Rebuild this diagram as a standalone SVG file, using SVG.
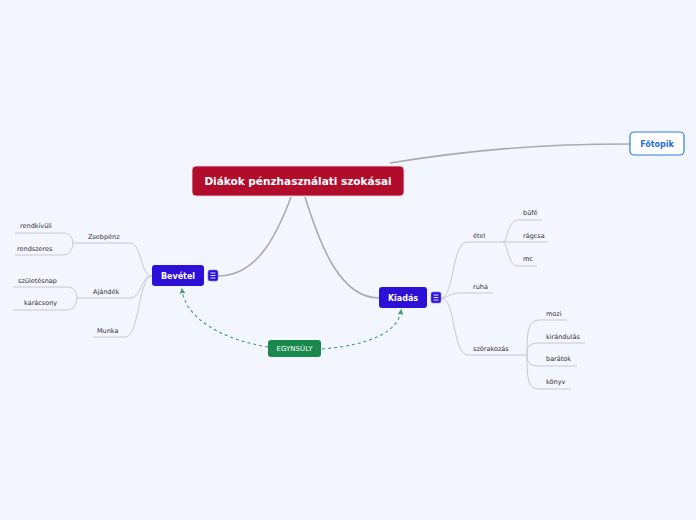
<svg xmlns="http://www.w3.org/2000/svg" width="696" height="520" viewBox="0 0 696 520">
<defs>
<style>
.bg{fill:#f3f6fe}
.main{fill:none;stroke:#aaaab2;stroke-width:1.6}
.sub{fill:none;stroke:#c6c8d2;stroke-width:1}
.rel{fill:none;stroke:#3f9e6e;stroke-width:1.1;stroke-dasharray:3 3}
.t{font-family:"DejaVu Sans",Verdana,sans-serif;font-size:6.5px;fill:#333}
.nb{font-family:"DejaVu Sans",Verdana,sans-serif;font-weight:bold;fill:#fff;text-anchor:middle}
.blue{fill:#2d10d8}
.icon{fill:#2d10d8;stroke:#8a7cf0;stroke-width:0.6}
.il{stroke:#fff;stroke-width:0.9}
</style>
<marker id="ah" viewBox="0 0 6 6" refX="3" refY="3" markerWidth="6" markerHeight="6" orient="auto">
<path d="M0,0.5 L5,3 L0,5.5 z" fill="#3f9e6e"/>
</marker>
</defs>
<rect class="bg" x="0" y="0" width="696" height="520"/>
<g id="connectors">
<path class="main" d="M390,163 C470,150 540,144 630,144"/>
<path class="main" d="M291,197 C275,240 255,276 218,276"/>
<path class="main" d="M305,197 C320,245 340,298 379,298"/>
<path class="sub" d="M152,276 C140,276 142,243 130,243 L73,243"/>
<path class="sub" d="M73,243 C72,236 70,233 62,233 L15,233"/>
<path class="sub" d="M73,243 C72,250 70,255 62,255 L15,255"/>
<path class="sub" d="M152,276 C140,276 142,298 130,298 L77,298"/>
<path class="sub" d="M77,298 C76,291 74,287 66,287 L13,287"/>
<path class="sub" d="M77,298 C76,305 74,310 66,310 L13,310"/>
<path class="sub" d="M152,276 C138,276 140,337 125,337 L93,337"/>
<path class="sub" d="M441,298 C454,298 452,242 467,242 L503,242"/>
<path class="sub" d="M503,242 C508,242 507,220 518,220 L542,220"/>
<path class="sub" d="M503,242 L548,242"/>
<path class="sub" d="M503,242 C508,242 507,266 518,266 L537,266"/>
<path class="sub" d="M441,298 C448,298 450,293 460,293 L493,293"/>
<path class="sub" d="M441,298 C456,298 452,355 468,355 L527,355"/>
<path class="sub" d="M527,355 C527,330 528,320 540,320 L567,320"/>
<path class="sub" d="M527,355 C527,346 529,343 540,343 L585,343"/>
<path class="sub" d="M527,355 C527,363 529,366 540,366 L577,366"/>
<path class="sub" d="M527,355 C527,380 528,389 540,389 L571,389"/>
<path class="rel" d="M268,347 C225,340 186,320 182,290" marker-end="url(#ah)"/>
<path class="rel" d="M322,349 C370,345 398,332 401,311" marker-end="url(#ah)"/>
</g>
<g id="central">
<rect x="192" y="166" width="212" height="30" rx="4" fill="#b10c2b" stroke="#f4dde2" stroke-width="0.8"/>
<text class="nb" x="298" y="184.5" font-size="10.5">Diákok pénzhasználati szokásai</text>
</g>
<g id="fotopik">
<rect x="630" y="132" width="54" height="23" rx="4" fill="#fff" stroke="#2a7de1" stroke-width="1.2"/>
<text class="nb" x="657" y="146.5" font-size="8" style="fill:#1f6fd6">Főtopik</text>
</g>
<g id="bevetel">
<rect class="blue" x="152" y="265" width="52" height="21" rx="3"/>
<text class="nb" x="178" y="278.8" font-size="8">Bevétel</text>
<rect class="icon" x="208" y="270" width="10" height="11" rx="2"/>
<path class="il" d="M210.5,273 H215.5 M210.5,275.5 H215.5 M210.5,278 H215.5"/>
</g>
<g id="kiadas">
<rect class="blue" x="379" y="287" width="48" height="21" rx="3"/>
<text class="nb" x="403" y="300.8" font-size="8">Kiadás</text>
<rect class="icon" x="431" y="292" width="10" height="11" rx="2"/>
<path class="il" d="M433.5,295 H438.5 M433.5,297.5 H438.5 M433.5,300 H438.5"/>
</g>
<g id="egynsuly">
<rect x="268" y="340" width="53" height="17" rx="3" fill="#19894b"/>
<text class="nb" x="294.5" y="351" font-size="7" style="font-weight:normal">EGYNSÚLY</text>
</g>
<g id="zsebpenz"><text class="t" x="88" y="239">Zsebpénz</text></g>
<g id="rendkivuli"><text class="t" x="20" y="228">rendkívüli</text></g>
<g id="rendszeres"><text class="t" x="17" y="251">rendszeres</text></g>
<g id="ajandek"><text class="t" x="93" y="294">Ajándék</text></g>
<g id="szuletesnap"><text class="t" x="18" y="283">születésnap</text></g>
<g id="karacsony"><text class="t" x="24" y="305">karácsony</text></g>
<g id="munka"><text class="t" x="97" y="333">Munka</text></g>
<g id="etel"><text class="t" x="473" y="238">étel</text></g>
<g id="bufe"><text class="t" x="523" y="215">büfé</text></g>
<g id="ragcsa"><text class="t" x="523" y="238">rágcsa</text></g>
<g id="mc"><text class="t" x="523" y="261">mc</text></g>
<g id="ruha"><text class="t" x="473" y="289">ruha</text></g>
<g id="szorakozas"><text class="t" x="473" y="351">szórakozás</text></g>
<g id="mozi"><text class="t" x="546" y="316">mozi</text></g>
<g id="kirandulas"><text class="t" x="546" y="339">kirándulás</text></g>
<g id="baratok"><text class="t" x="546" y="361">barátok</text></g>
<g id="konyv"><text class="t" x="546" y="384">könyv</text></g>
</svg>
